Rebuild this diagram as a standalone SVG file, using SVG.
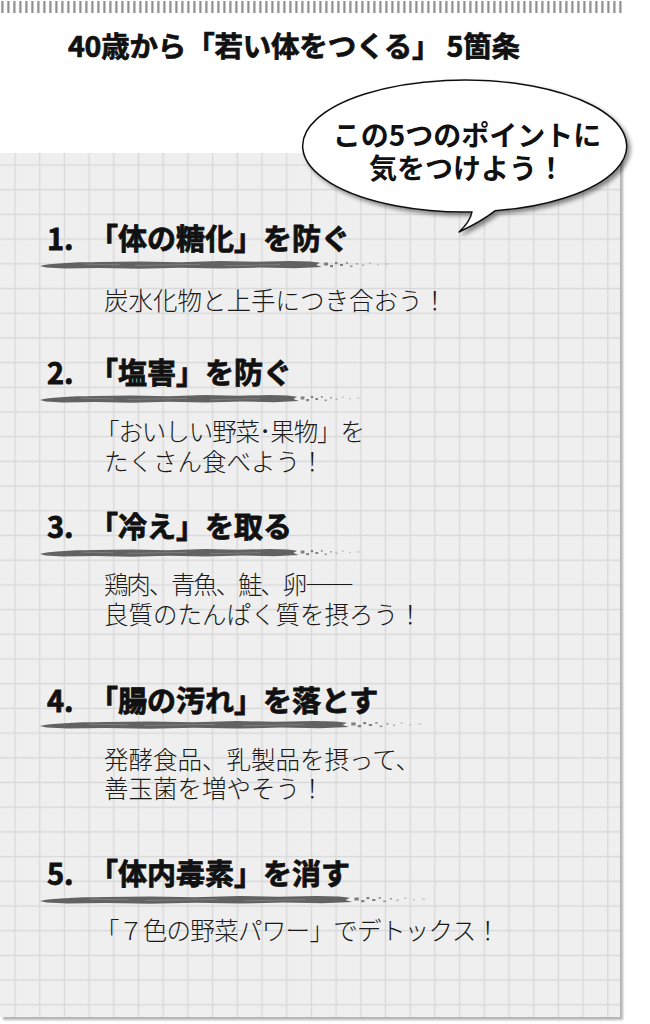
<svg xmlns="http://www.w3.org/2000/svg" xmlns:xlink="http://www.w3.org/1999/xlink" width="650" height="1024" viewBox="0 0 650 1024">
<style>
.t{font-family:'Noto Sans CJK JP','Noto Sans',sans-serif;font-size:28.5px;font-weight:700;fill:#111;stroke:#111;stroke-width:0.7px}
.h{font-family:'Noto Sans CJK JP','Noto Sans',sans-serif;font-size:29px;font-weight:700;fill:#111;stroke:#111;stroke-width:0.8px}
.b{font-family:'Noto Sans CJK JP','Noto Sans',sans-serif;font-size:24.5px;font-weight:300;fill:#1a1a1a}
.s{font-family:'Noto Sans CJK JP','Noto Sans',sans-serif;font-size:28px;font-weight:700;fill:#111}
.br{fill:#626262}
.sp{fill:#808080}
</style>
<defs>
<pattern id="grid" x="2.65" y="152.65" width="24.7" height="24.7" patternUnits="userSpaceOnUse">
<path d="M12.35 0V24.7M0 12.35H24.7" stroke="#d9d9d9" stroke-width="1.4" fill="none"/>
</pattern>
<filter id="sh" x="-10%" y="-10%" width="125%" height="140%">
<feDropShadow dx="3" dy="3" stdDeviation="2" flood-color="#000" flood-opacity="0.45"/>
</filter>
<filter id="psh" x="-2%" y="-2%" width="105%" height="105%">
<feGaussianBlur stdDeviation="1"/>
</filter>
<g id="brush">
<path class="br" d="M0,1 C10,-1.5 30,-2.8 60,-3 L100,-3.6 L140,-2.8 L180,-4 L215,-3.2 L250,-4 L270,-3.4 L280,-2.2 L276,0 L282,2 L255,3.2 L220,2.6 L180,3.6 L140,2.8 L100,3.8 L60,3 L25,3.4 L6,2.6 Z"/>
<path d="M95,0.4 L160,-0.6 M185,0.8 L240,-0.4 M45,-0.8 L80,-0.2" stroke="#858585" stroke-width="0.8" fill="none"/>
<rect class="sp" x="284" y="-2.5" width="4" height="3"/>
<rect class="sp" x="290" y="0" width="3" height="2.2"/>
<rect class="sp" x="295" y="-3" width="2.5" height="2.2"/>
<rect class="sp" x="300" y="-1" width="3" height="2"/>
<rect class="sp" x="306" y="-3" width="2" height="1.8" opacity="0.8"/>
<rect class="sp" x="310" y="0.5" width="2.5" height="1.6" opacity="0.8"/>
<rect class="sp" x="316" y="-2" width="2" height="1.6" opacity="0.7"/>
<rect class="sp" x="322" y="-0.5" width="2" height="1.5" opacity="0.6"/>
<rect class="sp" x="329" y="-2.5" width="1.8" height="1.3" opacity="0.5"/>
<rect class="sp" x="337" y="-1" width="1.6" height="1.3" opacity="0.45"/>
<rect class="sp" x="345" y="-1.5" width="3" height="1.1" opacity="0.4"/>
</g>
</defs>

<rect width="650" height="1024" fill="#fff"/>

<g id="topbar">
<line x1="1.3" y1="7" x2="622" y2="7" stroke="#909090" stroke-width="12" stroke-dasharray="2.2 3.8"/>
</g>

<g id="title">
<text class="t" x="68" y="57" textLength="452" lengthAdjust="spacing">40歳から「若い体をつくる」 5箇条</text>
</g>

<g id="panel">
<rect x="3" y="156" width="620" height="864" fill="#b5b5b5" filter="url(#psh)"/>
<rect x="0" y="153" width="620" height="864" fill="#eeefee"/>
<rect x="0" y="153" width="620" height="864" fill="url(#grid)"/>
</g>

<g id="bubble">
<path filter="url(#sh)" d="M472,211.9 A162,66 0 1 1 495,210.8 Q482,221 459,232 Q470,222 472,211.9 Z" fill="#fff" stroke="#111" stroke-width="1.5" stroke-linejoin="round"/>
<text class="s" x="467" y="146" text-anchor="middle">この5つのポイントに</text>
<text class="s" x="467" y="179" text-anchor="middle">気をつけよう！</text>
</g>

<g id="item1">
<use xlink:href="#brush" href="#brush" transform="translate(40,265)"/>
<text class="h" y="250"><tspan x="47">1.</tspan><tspan x="89">「体の糖化」を防ぐ</tspan></text>
<text class="b" x="104" y="310">炭水化物と上手につき合おう！</text>
</g>

<g id="item2">
<use xlink:href="#brush" href="#brush" transform="translate(40,399) scale(0.918,1)"/>
<text class="h" y="384"><tspan x="47">2.</tspan><tspan x="89">「塩害」を防ぐ</tspan></text>
<text class="b" x="95" y="441" textLength="270" lengthAdjust="spacing">「おいしい野菜･果物」を</text>
<text class="b" x="104" y="471">たくさん食べよう！</text>
</g>

<g id="item3">
<use xlink:href="#brush" href="#brush" transform="translate(40,553) scale(0.918,1)"/>
<text class="h" y="538"><tspan x="47">3.</tspan><tspan x="89">「冷え」を取る</tspan></text>
<text class="b" x="104" y="594" textLength="250" lengthAdjust="spacing">鶏肉、青魚、鮭、卵――</text>
<text class="b" x="104" y="624">良質のたんぱく質を摂ろう！</text>
</g>

<g id="item4">
<use xlink:href="#brush" href="#brush" transform="translate(40,725) scale(1.096,1)"/>
<text class="h" y="712"><tspan x="47">4.</tspan><tspan x="89">「腸の汚れ」を落とす</tspan></text>
<text class="b" x="104" y="769">発酵食品、乳製品を摂って、</text>
<text class="b" x="104" y="798">善玉菌を増やそう！</text>
</g>

<g id="item5">
<use xlink:href="#brush" href="#brush" transform="translate(40,900) scale(1.107,1)"/>
<text class="h" y="885"><tspan x="47">5.</tspan><tspan x="89">「体内毒素」を消す</tspan></text>
<text class="b" x="95" y="940" textLength="405" lengthAdjust="spacing">「７色の野菜パワー」でデトックス！</text>
</g>
</svg>
